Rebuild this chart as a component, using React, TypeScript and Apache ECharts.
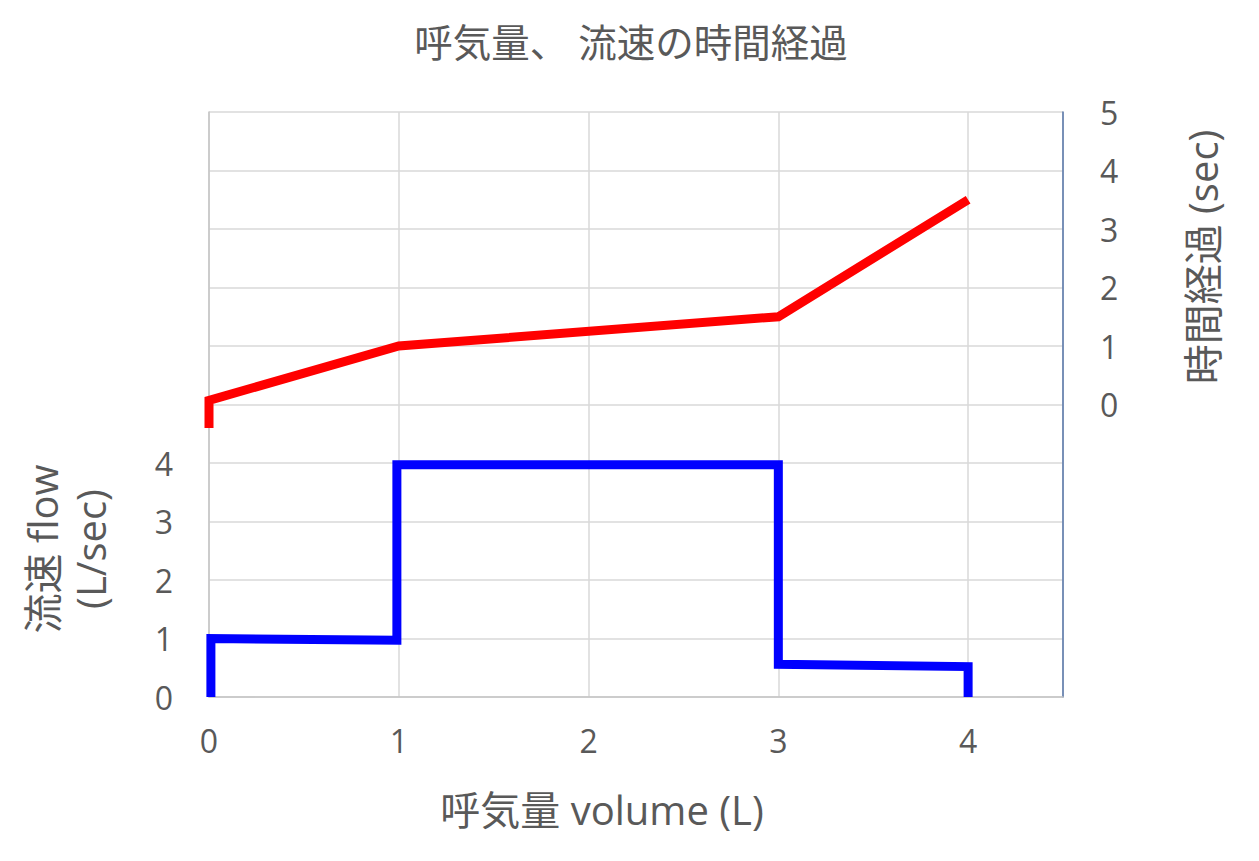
import React, { useEffect, useRef } from "react";
import * as echarts from "echarts";

const chartTitle = "呼気量、 流速の時間経過";
const xAxisTitle = "呼気量 volume (L)";
const leftAxisTitle = "流速 flow\n(L/sec)";
const rightAxisTitle = "時間経過 (sec)";

const xTicks = [0, 1, 2, 3, 4];
const flowTicks = [0, 1, 2, 3, 4];
const timeTicks = [0, 1, 2, 3, 4, 5];

// flow (L/sec) vs volume (L)
const flowVolume = [0.01, 0.01, 0.99, 0.99, 3, 3, 4, 4];
const flowValues = [0, 1.0, 0.97, 3.97, 3.97, 0.56, 0.52, 0];

// elapsed time (sec) vs volume (L)
const timeVolume = [0, 0, 1, 3, 4];
const timeValues = [-0.4, 0.07, 1, 1.5, 3.5];

const FONT = "'Open Sans', 'Noto Sans CJK JP', sans-serif";
const TEXT = "#595959";

export default function App() {
  const ref = useRef<HTMLDivElement>(null);

  useEffect(() => {
    if (!ref.current) return;
    const chart = echarts.init(ref.current, undefined, { renderer: "svg" });
    const flowData = flowVolume.map((v, i) => [v, flowValues[i]]);
    const timeData = timeVolume.map((v, i) => [v, timeValues[i]]);

    chart.setOption({
      animation: false,
      backgroundColor: "#ffffff",
      textStyle: { fontFamily: FONT },
      grid: { left: 209, right: 196, top: 112, bottom: 164, containLabel: false },
      xAxis: {
        type: "value",
        min: 0,
        max: 4.5,
        interval: 1,
        axisLine: { show: true, lineStyle: { color: "#c4c4c4", width: 1.5 } },
        axisTick: { show: false },
        splitLine: { show: true, lineStyle: { color: "#d9d9d9", width: 1.5 } },
        axisLabel: {
          margin: 27,
          fontSize: 32,
          color: TEXT,
          fontFamily: FONT,
          formatter: (v: number) => (xTicks.includes(v) ? String(v) : ""),
        },
      },
      yAxis: [
        {
          type: "value",
          min: 0,
          max: 10,
          interval: 1,
          position: "left",
          axisLine: { show: true, lineStyle: { color: "#c4c4c4", width: 1.5 } },
          axisTick: { show: false },
          splitLine: { show: true, lineStyle: { color: "#d9d9d9", width: 1.5 } },
          axisLabel: {
            margin: 36,
            fontSize: 32,
            color: TEXT,
            fontFamily: FONT,
            padding: [0, 0, 9, 0],
            formatter: (v: number) => (flowTicks.includes(v) ? String(v) : ""),
          },
        },
        {
          type: "value",
          min: -5,
          max: 5,
          interval: 1,
          position: "right",
          axisLine: { show: true, lineStyle: { color: "#5575a8", width: 1.5 } },
          axisTick: { show: false },
          splitLine: { show: false },
          axisLabel: {
            margin: 37,
            fontSize: 32,
            color: TEXT,
            fontFamily: FONT,
            padding: [0, 0, 7, 0],
            formatter: (v: number) => (timeTicks.includes(v) ? String(v) : ""),
          },
        },
      ],
      series: [
        {
          name: "flow",
          type: "line",
          yAxisIndex: 0,
          data: flowData,
          showSymbol: false,
          symbol: "none",
          clip: false,
          lineStyle: { color: "#0000ff", width: 9, join: "miter", cap: "butt" },
          z: 3,
        },
        {
          name: "time",
          type: "line",
          yAxisIndex: 1,
          data: timeData,
          showSymbol: false,
          symbol: "none",
          clip: false,
          lineStyle: { color: "#ff0000", width: 9, join: "miter", cap: "butt" },
          z: 3,
        },
      ],
      graphic: [
        {
          type: "text",
          x: 631,
          y: 42,
          style: {
            text: chartTitle,
            fontSize: 38.5,
            fontFamily: FONT,
            fill: TEXT,
            align: "center",
            verticalAlign: "middle",
          },
        },
        {
          type: "text",
          x: 602,
          y: 809,
          style: {
            text: xAxisTitle,
            fontSize: 40,
            fontFamily: FONT,
            fill: TEXT,
            align: "center",
            verticalAlign: "middle",
          },
        },
        {
          type: "text",
          x: 66,
          y: 549,
          rotation: Math.PI / 2,
          style: {
            text: leftAxisTitle,
            fontSize: 40,
            lineHeight: 48,
            fontFamily: FONT,
            fill: TEXT,
            align: "center",
            verticalAlign: "middle",
          },
        },
        {
          type: "text",
          x: 1202,
          y: 257,
          rotation: Math.PI / 2,
          style: {
            text: rightAxisTitle,
            fontSize: 40,
            fontFamily: FONT,
            fill: TEXT,
            align: "center",
            verticalAlign: "middle",
          },
        },
      ],
    });

    return () => chart.dispose();
  }, []);

  return (
    <div
      ref={ref}
      style={{ position: "fixed", left: 0, top: 0, width: 1259, height: 861 }}
    />
  );
}
